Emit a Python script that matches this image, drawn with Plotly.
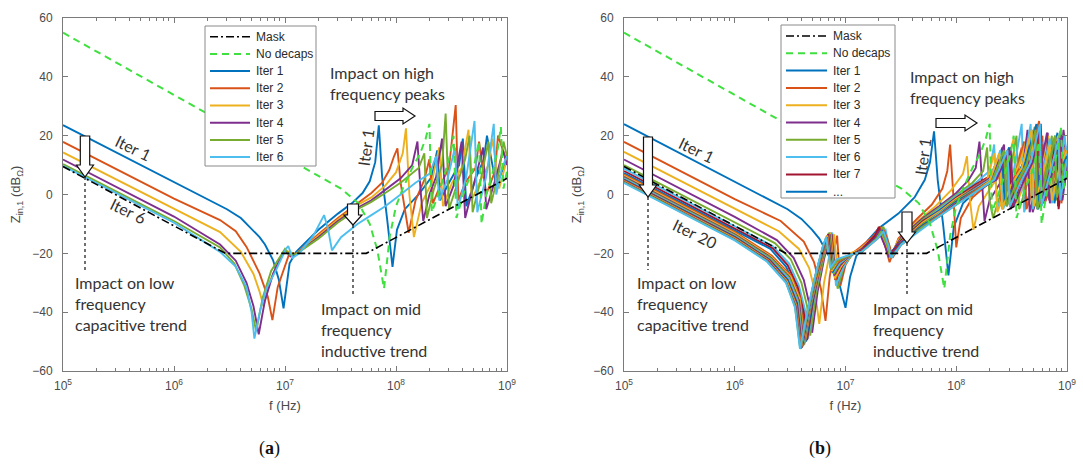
import plotly.graph_objects as go

W, H = 1083, 465

# ---------------- shared data ----------------
MASK_F = [1e5, 2.9e6, 5.4e7, 1e9]
MASK_DB = [9.5, -20, -20, 5.5]

NODECAPS_F = [1e5, 3.2e7, 4.6e7, 5.8e7, 6.8e7, 7.8e7, 8.8e7, 1.0e8, 1.15e8, 1.4e8, 1.65e8, 1.85e8, 2.0e8, 2.1e8,
              2.3e8, 2.7e8, 3.1e8, 3.3e8, 3.5e8, 4.2e8, 5.0e8, 5.6e8, 5.9e8, 6.5e8, 7.5e8, 8.3e8, 8.8e8, 9.3e8, 1e9]
NODECAPS_DB = [55, 2, -3, -10, -19, -32, -14, -4, 2, 9, 14, 19, 24, -6,
               -2, 6, 14, 20, -8, 2, 9, 18, -10, 0, 8, 16, 23, 2, 8]

X_TICKS = [1e5, 1e6, 1e7, 1e8, 1e9]
X_TICK_TEXT = ["10<sup>5</sup>", "10<sup>6</sup>", "10<sup>7</sup>", "10<sup>8</sup>", "10<sup>9</sup>"]
X_MINOR = [m * 10 ** e for e in range(5, 9) for m in range(2, 10)]
Y_TICKS = [-60, -40, -20, 0, 20, 40, 60]

# ---------------- panel (a) ----------------
A1_F = [1e5, 1e6, 3e6, 4e6, 5.1e6, 5.9e6, 6.6e6, 7.8e6, 8.8e6, 9.7e6, 1.1e7, 1.26e7, 2e7, 3e7, 4e7, 5e7, 5.8e7,
        6.5e7, 7.0e7, 7.5e7, 8.3e7, 9.3e7, 1.02e8, 1.2e8, 1.6e8, 2.1e8, 2.35e8, 2.5e8, 3.0e8, 3.7e8, 4.0e8, 4.3e8,
        5.3e8, 6.2e8, 6.6e8, 8e8, 1e9]
A1_DB = [23.6, 4.1, -5, -8, -12, -14.5, -17, -22.3, -29, -38.7, -23.4, -19.5, -12, -6.5, -3, 0.5, 4.5,
         11, 23.5, 6, -8, -24.6, -12, -5, 0, 6, 15, -2, 4, 10, 19, -4,
         6, 12, 20, 3, 12]
A2_F = [1e5, 1e6, 2.6e6, 3.6e6, 4.5e6, 5.9e6, 7e6, 7.7e6, 8.6e6, 9.9e6, 1.1e7, 1.25e7, 2e7, 3e7, 4.5e7, 6e7, 7.5e7,
        8.7e7, 9.6e7, 1.03e8, 1.1e8, 1.2e8, 1.3e8, 1.5e8, 1.8e8, 2.0e8, 2.15e8, 2.5e8, 3.0e8, 3.45e8, 3.65e8,
        4.2e8, 5.2e8, 5.6e8, 6.5e8, 7.8e8, 8.3e8, 1e9]
A2_DB = [17.9, -1.4, -8.7, -12.5, -17.8, -26.8, -34.8, -42.7, -31.4, -24.6, -19.8, -20.3, -13.5, -8, -3, 0.5, 4,
         8.3, 13, 15.7, 4, -5, -13, -2, 5, 12, -3, 3, 9, 30.4, -2,
         4, 9, 18, 0, 8, 20, 11]
A3_F = [1e5, 1e6, 2.6e6, 4e6, 5.2e6, 5.9e6, 6.4e6, 7.2e6, 8.5e6, 1.0e7, 1.1e7, 1.25e7, 2e7, 3e7, 4.5e7, 6e7, 8e7,
        1.0e8, 1.15e8, 1.23e8, 1.32e8, 1.45e8, 1.7e8, 2.1e8, 2.45e8, 2.65e8, 3.2e8, 3.9e8, 4.5e8, 4.8e8, 5.8e8,
        6.8e8, 7.4e8, 8.5e8, 1e9]
A3_DB = [14.3, -5, -12.8, -19.5, -27, -33, -38, -30, -24, -19, -19.5, -20.3, -14, -8.5, -3.5, -1, 3,
         7.5, 14, 22.5, 0, -14.5, -3, 4, 16, -4, 4, 9, 22, -2, 5,
         10, 19, 2, 12]
A4_F = [1e5, 1e6, 2.6e6, 3.6e6, 4.5e6, 5.2e6, 5.8e6, 6.6e6, 7.8e6, 9e6, 1.0e7, 1.12e7, 1.25e7, 2e7, 3e7, 4.5e7,
        6e7, 8e7, 1.1e8, 1.4e8, 1.56e8, 1.66e8, 1.76e8, 2e8, 2.3e8, 2.6e8, 2.8e8, 3.3e8, 3.9e8, 4.2e8, 5e8, 6.1e8,
        6.5e8, 8e8, 9.2e8, 1e9]
A4_DB = [11.9, -7.5, -17, -22.5, -30, -38, -47.5, -36, -27, -22, -19, -21, -20.3, -14.5, -9, -4.5,
         -2, 1.5, 5.5, 10, 18, 2, -9, 0, 6, 19, -4, 3, 18, -8, 3, 16,
         -5, 6, 15, 10]
A5_F = [1e5, 1e6, 2.6e6, 3.5e6, 4.3e6, 5e6, 5.5e6, 6.3e6, 7.5e6, 9e6, 1.0e7, 1.1e7, 1.25e7, 2e7, 3e7, 4.5e7,
        6e7, 8e7, 1.1e8, 1.6e8, 1.8e8, 1.9e8, 2.2e8, 2.6e8, 2.8e8, 3.0e8, 3.6e8, 4.2e8, 4.6e8, 4.9e8, 5.8e8, 6.8e8,
        7.2e8, 8.5e8, 9.3e8, 1e9]
A5_DB = [10.3, -9, -18, -23.5, -31, -39, -46.5, -35, -26, -21, -18.5, -20.5, -20.3, -15, -9.5, -5,
         -2.5, 0.5, 4, 9, 14, -8, 2, 10, 27.5, -5, 4, 12, 20, -6, 5, 18,
         -3, 8, 18, 13]
A6_F = [1e5, 1e6, 2.6e6, 3.6e6, 4.5e6, 5.0e6, 5.3e6, 6e6, 6.8e6, 8.3e6, 1.02e7, 1.07e7, 1.17e7, 1.35e7, 1.8e7,
        2.25e7, 2.45e7, 2.65e7, 3.2e7, 4.5e7, 6e7, 8e7, 1.1e8, 1.5e8, 2e8, 2.3e8, 2.45e8, 2.9e8, 3.4e8, 3.6e8,
        4.3e8, 5.1e8, 5.4e8, 6.5e8, 7.6e8, 8e8, 9e8, 1e9]
A6_DB = [9.7, -9.6, -19.5, -24.5, -31.5, -40, -49, -39, -32, -25.7, -18.5, -17.5, -21.5, -20, -14,
         -7, -12, -19, -14.5, -10, -7, -4, 0, 4, 7, 13, -2, 5, 16, -5,
         6, 25, -6, 6, 24, 0, 9, 13]

# ---------------- panel (b) ----------------
B1_F = [1e5, 1e6, 3e6, 4e6, 5e6, 5.8e6, 6.5e6, 7.6e6, 8.6e6, 1.0e7, 1.1e7, 1.25e7, 1.6e7, 2e7, 3e7, 4.2e7, 5.2e7,
        5.8e7, 6.3e7, 6.8e7, 7.6e7, 8.5e7, 9.5e7, 1.15e8, 1.6e8, 2.2e8, 2.6e8, 2.8e8, 3.5e8, 4.3e8, 4.8e8, 5.1e8,
        6.2e8, 7.5e8, 8.2e8, 8.7e8, 1e9]
B1_DB = [23.9, 4.5, -5, -8.3, -12, -15, -18.5, -23, -29, -38.5, -28, -21, -15.5, -11.5, -6.5, -1, 5,
         11, 21.5, 5, -10, -27.5, -11, -3, 2, 7, 16, -1, 6, 13, 22, -2,
         8, 14, 21, 2, 12]
B2_F = [1e5, 1e6, 2.6e6, 4.2e6, 5.2e6, 6e6, 6.6e6, 7.2e6, 7.9e6, 8.4e6, 9e6, 1.0e7, 1.15e7, 1.35e7, 1.8e7, 2.05e7,
        2.3e7, 2.5e7, 3e7, 4.5e7, 6e7, 7.5e7, 8.3e7, 8.8e7, 9.4e7, 1.0e8, 1.1e8, 1.4e8, 2e8, 2.4e8, 2.6e8, 3.2e8,
        3.9e8, 4.2e8, 5.2e8, 6e8, 6.3e8, 7.8e8, 9e8, 1e9]
B2_DB = [17.9, -1.6, -9, -16, -23, -32, -43, -28, -19, -14, -31, -24, -20, -18, -14, -11,
         -18, -23, -15, -8, -3.5, 2, 8, 17, 0, -18, -8, -1, 4, 12, -5, 3,
         16, -4, 6, 20, -3, 8, 17, 9]
B3_F = [1e5, 1e6, 2.5e6, 3.8e6, 4.7e6, 5.3e6, 5.8e6, 6.4e6, 7.2e6, 7.9e6, 8.6e6, 9.6e6, 1.1e7, 1.3e7, 1.8e7,
        2.1e7, 2.35e7, 2.55e7, 3e7, 4.5e7, 6.5e7, 9e7, 1.15e8, 1.25e8, 1.33e8, 1.43e8, 1.6e8, 2.1e8, 2.8e8, 3.3e8,
        3.5e8, 4.4e8, 5.5e8, 5.8e8, 7e8, 8.3e8, 8.8e8, 1e9]
B3_DB = [14.5, -5, -12.5, -18.5, -25, -33, -44, -30, -20, -13.5, -29, -24, -20, -19, -14.5,
         -12, -17, -21, -15.5, -9, -4, 1.5, 7, 13, -2, -12, -4, 3, 9, 19,
         -3, 6, 21, -1, 8, 20, 1, 10]
B4_F = [1e5, 1e6, 2.4e6, 3.4e6, 4.2e6, 4.7e6, 5.0e6, 5.6e6, 6.4e6, 7.3e6, 8e6, 8.8e6, 1.0e7, 1.15e7, 1.4e7, 1.9e7,
        2.15e7, 2.4e7, 2.6e7, 3.2e7, 5e7, 7e7, 1e8, 1.3e8, 1.5e8, 1.62e8, 1.72e8, 1.8e8, 2e8, 2.5e8, 2.9e8, 3.1e8,
        3.8e8, 4.6e8, 4.9e8, 6e8, 6.7e8, 7e8, 8.2e8, 9.4e8, 1e9]
B4_DB = [11.9, -7.6, -15.5, -21.5, -29, -37, -47, -33, -22, -13, -26, -30.5, -23, -20.5, -18.5, -13.5,
         -11.5, -16.5, -20, -14.5, -8, -4, 0.5, 5, 9, 18, 0, -9, -2, 4, 14, -5,
         5, 17, -6, 5, 21, -3, 7, 18, 11]
B5_F = [1e5, 1e6, 2.3e6, 3.2e6, 4e6, 4.5e6, 4.8e6, 5.4e6, 6.3e6, 7.2e6, 7.8e6, 8.5e6, 9.8e6, 1.15e7, 1.4e7, 1.9e7,
        2.2e7, 2.4e7, 2.6e7, 3.2e7, 5e7, 7e7, 1e8, 1.4e8, 1.75e8, 1.9e8, 2.0e8, 2.15e8, 2.5e8, 3e8, 3.5e8, 3.7e8,
        4.5e8, 5.4e8, 5.7e8, 7e8, 7.8e8, 8.1e8, 9.2e8, 1e9]
B5_DB = [10.0, -9.5, -16.5, -22, -30, -38, -48, -34, -22, -13, -24, -32, -24, -20.5, -19, -14,
         -11, -15.5, -21, -15, -8.5, -4.5, 0, 4, 8, 16, -2, -8, 0, 6, 20, -5,
         5, 15, -4, 7, 18, -2, 9, 14]
B6_F = [1e5, 1e6, 2.2e6, 3.1e6, 3.8e6, 4.3e6, 4.6e6, 5.2e6, 6e6, 7e6, 7.6e6, 8.2e6, 9.5e6, 1.12e7, 1.4e7, 1.9e7,
        2.3e7, 2.45e7, 2.65e7, 3.2e7, 5e7, 7e7, 1e8, 1.5e8, 2e8, 2.2e8, 2.35e8, 2.7e8, 3.3e8, 3.9e8, 4.1e8, 5e8,
        5.9e8, 6.2e8, 7.6e8, 8.8e8, 9.2e8, 1e9]
B6_DB = [8.8, -10.6, -17.5, -23.5, -31, -39, -49, -35, -24, -14, -13, -31, -25, -20.5, -19, -14.5,
         -12, -17, -21.5, -15.5, -9, -5, -0.5, 4, 8, 17, -5, 2, 8, 24, -6, 5,
         18, -3, 9, 22, 2, 12]
B7_F = [1e5, 1e6, 2.2e6, 3.0e6, 3.7e6, 4.2e6, 4.5e6, 5.1e6, 5.9e6, 6.9e6, 7.5e6, 8.1e6, 9.3e6, 1.1e7, 1.4e7,
        1.85e7, 2.0e7, 2.25e7, 2.5e7, 3.2e7, 5e7, 7e7, 1e8, 1.5e8, 2.3e8, 2.6e8, 2.75e8, 3.3e8, 4.3e8, 5.5e8,
        5.8e8, 7e8, 8e8, 8.4e8, 9.3e8, 1e9]
B7_DB = [8.0, -11.4, -18.3, -24, -31.5, -40, -49.5, -36, -24.5, -14.5, -13.5, -29, -24.5, -20.5, -19,
         -14, -11, -17, -20.5, -15.5, -9, -5.5, -1, 3.5, 7.5, 14, -3, 4, 10, 24,
         -4, 7, 14, -5, 8, 13]
B8_F = [1e5, 1e6, 2.1e6, 2.9e6, 3.6e6, 4.1e6, 4.4e6, 5.0e6, 5.8e6, 6.8e6, 7.4e6, 8e6, 9.2e6, 1.1e7, 1.4e7, 1.9e7,
        2.1e7, 2.3e7, 2.5e7, 3.2e7, 5e7, 7e7, 1e8, 1.5e8, 2.5e8, 3.0e8, 3.15e8, 3.7e8, 4.6e8, 5.2e8, 5.4e8, 6.6e8,
        7.4e8, 7.7e8, 9e8, 1e9]
B8_DB = [7.3, -12.1, -18.5, -24.5, -32, -40.5, -50, -36.5, -25, -15, -13.5, -28, -24, -20.5, -19.5, -14.5,
         -12.5, -16.5, -20, -16, -9.5, -5.5, -1.5, 3, 8, 16, -2, 4, 11, 23, -5, 6,
         16, -3, 10, 12]
B9_F = [1e5, 1e6, 2.15e6, 3.2e6, 3.9e6, 4.3e6, 4.9e6, 5.8e6, 6.8e6, 7.4e6, 8.1e6, 9.2e6, 1.1e7, 1.4e7, 1.9e7,
        2.1e7, 2.35e7, 2.55e7, 3.2e7, 5e7, 7e7, 1e8, 1.5e8, 2.0e8, 2.4e8, 2.55e8, 3.0e8, 3.6e8, 4.1e8, 4.3e8,
        5.3e8, 6.1e8, 6.4e8, 8e8, 9.1e8, 9.5e8, 1e9]
B9_DB = [6.8, -12.7, -20.7, -27.5, -35.2, -50.5, -37, -25.5, -15.5, -13.5, -29, -24, -20.5, -19.5, -14.5,
         -12, -17, -21.5, -16, -9.5, -6, -1.5, 3, 6, 12, -4, 3, 8, 18, -5,
         5, 17, -2, 8, 19, 3, 11]
B10_F = [1e5, 1e6, 2.1e6, 3.2e6, 3.85e6, 4.25e6, 4.85e6, 5.7e6, 6.7e6, 7.3e6, 8.0e6, 9.1e6, 1.1e7, 1.4e7, 1.95e7,
         2.15e7, 2.4e7, 2.6e7, 3.2e7, 5e7, 7e7, 1e8, 1.5e8, 1.9e8, 2.2e8, 2.35e8, 2.9e8, 3.7e8, 4.5e8, 4.8e8,
         5.6e8, 6.8e8, 7.1e8, 8.3e8, 9.6e8, 1e9]
B10_DB = [6.4, -13.1, -20.9, -28, -35.5, -51, -37.5, -26, -16, -13, -28.5, -24.5, -20.5, -19.5, -14,
          -12.5, -17.5, -21, -16, -9.5, -6, -1.5, 2.5, 5, 14, -6, 3, 10, 21, -3,
          6, 20, -1, 9, 16, 10]
B11_F = [1e5, 1e6, 2.1e6, 3.1e6, 3.8e6, 4.2e6, 4.8e6, 5.6e6, 6.6e6, 7.2e6, 7.9e6, 9.0e6, 1.1e7, 1.4e7, 1.9e7,
         2.05e7, 2.3e7, 2.5e7, 3.2e7, 5e7, 7e7, 1e8, 1.5e8, 2.1e8, 2.7e8, 2.85e8, 3.3e8, 4.0e8, 4.4e8, 4.6e8,
         5.5e8, 6.6e8, 6.9e8, 8.6e8, 9.3e8, 1e9]
B11_DB = [6.0, -13.5, -21.3, -28, -36, -51, -38, -26.5, -16.5, -13.5, -27.5, -24, -20.5, -19.5, -14.5,
          -12, -16.5, -20.5, -16, -10, -6.5, -2, 2.5, 6, 17, -4, 3, 9, 22, -6,
          5, 21, -2, 9, 22, 11]
B12_F = [1e5, 1e6, 2.1e6, 3.1e6, 3.75e6, 4.15e6, 4.75e6, 5.6e6, 6.6e6, 7.1e6, 7.8e6, 8.9e6, 1.1e7, 1.4e7, 1.95e7,
         2.2e7, 2.45e7, 2.6e7, 3.2e7, 5e7, 7e7, 1e8, 1.5e8, 2.2e8, 2.8e8, 3.0e8, 3.6e8, 4.3e8, 5.1e8, 5.3e8,
         6.3e8, 7.3e8, 7.6e8, 8.8e8, 1e9]
B12_DB = [5.7, -13.8, -21.6, -28.3, -36.3, -51.5, -38.5, -26.5, -16, -13, -27, -23.5, -20.5, -19.5, -14.5,
          -12.5, -17, -21, -16.5, -10, -6.5, -2, 2, 6, 13, -3, 4, 10, 23, -4,
          6, 20, 0, 9, 14]
B13_F = [1e5, 1e6, 2.05e6, 3.05e6, 3.7e6, 4.1e6, 4.7e6, 5.5e6, 6.5e6, 7.0e6, 7.7e6, 8.8e6, 1.1e7, 1.4e7, 1.9e7,
         2.1e7, 2.35e7, 2.55e7, 3.2e7, 5e7, 7e7, 1e8, 1.5e8, 2e8, 2.5e8, 2.65e8, 3.2e8, 4.0e8, 4.7e8, 4.9e8,
         5.9e8, 7e8, 7.3e8, 8.6e8, 9.5e8, 1e9]
B13_DB = [5.4, -14.1, -21.8, -28.5, -36.5, -51.5, -39, -27, -16.5, -13.5, -26.5, -23.5, -20.5, -19.5, -15,
          -12.5, -17.5, -21.5, -16.5, -10.5, -6.5, -2.5, 2, 5, 15, -5, 3, 9, 24, -5,
          6, 19, -3, 8, 20, 12]
B14_F = [1e5, 1e6, 2.05e6, 3.0e6, 3.65e6, 4.05e6, 4.65e6, 5.5e6, 6.5e6, 7.0e6, 7.6e6, 8.7e6, 1.1e7, 1.4e7, 1.85e7,
         2.0e7, 2.25e7, 2.45e7, 3.2e7, 5e7, 7e7, 1e8, 1.5e8, 2.3e8, 3.0e8, 3.2e8, 3.8e8, 4.6e8, 5.6e8, 5.9e8,
         6.9e8, 8.0e8, 8.3e8, 9.3e8, 1e9]
B14_DB = [5.1, -14.4, -22.1, -29, -37, -52, -39, -27, -16.5, -13.5, -26, -23, -20.5, -19.5, -14.5,
          -12, -16.5, -20.5, -16.5, -10.5, -7, -2.5, 1.5, 6, 14, -4, 4, 10, 23, -3,
          6, 18, -4, 9, 12]
B15_F = [1e5, 1e6, 2.0e6, 3.0e6, 3.6e6, 4.0e6, 4.6e6, 5.4e6, 6.4e6, 6.9e6, 7.6e6, 8.6e6, 1.1e7, 1.4e7, 1.9e7,
         2.15e7, 2.4e7, 2.6e7, 3.2e7, 5e7, 7e7, 1e8, 1.5e8, 2.1e8, 2.6e8, 2.75e8, 3.4e8, 4.2e8, 5.3e8, 5.5e8,
         6.6e8, 7.8e8, 8.1e8, 9.2e8, 1e9]
B15_DB = [4.9, -14.6, -22, -29.2, -37, -52, -39.5, -27.5, -17, -14, -26.5, -23, -20.5, -19.5, -14.5,
          -12.5, -17, -21, -16.5, -10.5, -7, -2.5, 1.5, 5, 13, -3, 4, 11, 24, -5,
          7, 20, -1, 10, 13]
B16_F = [1e5, 1e6, 2.0e6, 2.95e6, 3.6e6, 3.98e6, 4.55e6, 5.4e6, 6.4e6, 6.9e6, 7.5e6, 8.6e6, 1.1e7, 1.4e7, 1.95e7,
         2.25e7, 2.5e7, 2.65e7, 3.2e7, 5e7, 7e7, 1e8, 1.5e8, 2.2e8, 2.9e8, 3.05e8, 3.7e8, 4.6e8, 5.6e8, 5.8e8,
         7e8, 8.6e8, 8.9e8, 1e9]
B16_DB = [4.7, -14.8, -22.2, -29.4, -37.5, -52, -40, -27.5, -17, -14, -26, -23, -20.5, -19.5, -15,
          -12.5, -17.5, -21.5, -17, -11, -7, -3, 1.5, 5.5, 15, -4, 4, 10, 25, -4,
          7, 19, -3, 11]
B17_F = [1e5, 1e6, 2.0e6, 2.95e6, 3.55e6, 3.95e6, 4.55e6, 5.35e6, 6.3e6, 6.8e6, 7.5e6, 8.5e6, 1.1e7, 1.4e7, 1.9e7,
         2.05e7, 2.3e7, 2.5e7, 3.2e7, 5e7, 7e7, 1e8, 1.5e8, 2.0e8, 2.45e8, 2.6e8, 3.1e8, 3.9e8, 4.8e8, 5.0e8,
         6.0e8, 7.0e8, 7.3e8, 8.5e8, 1e9]
B17_DB = [4.5, -15, -22.4, -29.5, -37.5, -52.5, -40, -28, -17.5, -14, -26, -22.5, -20.5, -19.5, -15,
          -12.5, -17, -21, -17, -11, -7.5, -3, 1, 4.5, 14, -5, 3, 9, 22, -4,
          6, 17, -2, 9, 15]
B18_F = [1e5, 1e6, 2.0e6, 2.9e6, 3.55e6, 3.92e6, 4.5e6, 5.3e6, 6.3e6, 6.8e6, 7.4e6, 8.4e6, 1.1e7, 1.4e7, 1.85e7,
         2.0e7, 2.25e7, 2.45e7, 3.2e7, 5e7, 7e7, 1e8, 1.5e8, 2.3e8, 3.1e8, 3.3e8, 4.0e8, 4.9e8, 5.8e8, 6.1e8,
         7.3e8, 8.8e8, 9.1e8, 1e9]
B18_DB = [4.3, -15.2, -22.6, -29.6, -38, -52.5, -40.5, -28, -17.5, -14.5, -25.5, -22.5, -20.5, -19.5, -15,
          -12.5, -17, -21, -17, -11, -7.5, -3, 1, 5, 16, -4, 4, 11, 24, -3,
          7, 21, -2, 10]
B19_F = [1e5, 1e6, 1.95e6, 2.9e6, 3.5e6, 3.9e6, 4.5e6, 5.3e6, 6.2e6, 6.7e6, 7.4e6, 8.4e6, 1.1e7, 1.4e7, 1.9e7,
         2.1e7, 2.4e7, 2.55e7, 3.2e7, 5e7, 7e7, 1e8, 1.5e8, 2.1e8, 2.7e8, 2.85e8, 3.5e8, 4.3e8, 5.2e8, 5.4e8,
         6.5e8, 7.8e8, 8.1e8, 9.4e8, 1e9]
B19_DB = [4.1, -15.4, -22.6, -29.8, -38, -52.5, -41, -28.5, -18, -14.5, -25.5, -22.5, -20.5, -19.5, -15,
          -12.5, -17.5, -21.5, -17, -11, -7.5, -3.5, 1, 4.5, 15, -4, 4, 10, 22, -5,
          6, 20, -1, 9, 12]
B20_F = [1e5, 1e6, 1.95e6, 2.9e6, 3.5e6, 3.88e6, 4.45e6, 5.25e6, 6.2e6, 6.7e6, 7.3e6, 8.3e6, 1.1e7, 1.4e7, 1.95e7,
         2.2e7, 2.45e7, 2.6e7, 3.2e7, 5e7, 7e7, 1e8, 1.5e8, 2.2e8, 2.9e8, 3.05e8, 3.8e8, 4.7e8, 5.7e8, 5.9e8,
         7e8, 8.4e8, 8.7e8, 1e9]
B20_DB = [3.9, -15.6, -22.8, -30, -38.5, -52.5, -41, -28.5, -18, -14.5, -25, -22, -20.5, -19.5, -15,
          -12.5, -17.5, -21.5, -17, -11.5, -7.5, -3.5, 1, 5, 15, -4, 4, 11, 24, -4,
          7, 19, -2, 12]

A_SERIES = [(A1_F, A1_DB), (A2_F, A2_DB), (A3_F, A3_DB), (A4_F, A4_DB), (A5_F, A5_DB), (A6_F, A6_DB)]
B_SERIES = [(B1_F, B1_DB), (B2_F, B2_DB), (B3_F, B3_DB), (B4_F, B4_DB), (B5_F, B5_DB), (B6_F, B6_DB),
            (B7_F, B7_DB), (B8_F, B8_DB), (B9_F, B9_DB), (B10_F, B10_DB), (B11_F, B11_DB), (B12_F, B12_DB),
            (B13_F, B13_DB), (B14_F, B14_DB), (B15_F, B15_DB), (B16_F, B16_DB), (B17_F, B17_DB),
            (B18_F, B18_DB), (B19_F, B19_DB), (B20_F, B20_DB)]
A_NAMES = ["Iter 1", "Iter 2", "Iter 3", "Iter 4", "Iter 5", "Iter 6"]
B_NAMES = ["Iter 1", "Iter 2", "Iter 3", "Iter 4", "Iter 5", "Iter 6", "Iter 7", "..."]

# ---------------- styling ----------------
COLORS = ['#0072BD', '#D95319', '#EDB120', '#7E2F8E', '#77AC30', '#4DBEEE', '#A2142F']
GREEN = '#3fe03f'
MASK_DASH = '8px,3px,2px,3px'
GREEN_DASH = '7px,5px'
AX = '#7a7a7a'
TICKFONT = dict(family='Liberation Sans', size=12, color='#4a4a4a')
TITLEFONT = dict(family='Liberation Sans', size=13, color='#4a4a4a')
NOTEFONT = dict(family='Lato', size=16, color='#333333')
LEGFONT = dict(family='Liberation Sans', size=12, color='#2a2a2a')


def X(p):
    return p / W


def Y(p):
    return 1 - p / H


fig = go.Figure()


def add_panel(xa, ya, series, names):
    for i, (f, db) in enumerate(series):
        fig.add_trace(go.Scatter(
            x=f, y=db, mode='lines', name=names[i] if i < len(names) else 'Iter %d' % (i + 1),
            line=dict(color=COLORS[i % 7], width=1.9), xaxis=xa, yaxis=ya, hoverinfo='skip'))
    fig.add_trace(go.Scatter(
        x=NODECAPS_F, y=NODECAPS_DB, mode='lines', name='No decaps',
        line=dict(color=GREEN, width=2, dash=GREEN_DASH), xaxis=xa, yaxis=ya, hoverinfo='skip'))
    fig.add_trace(go.Scatter(
        x=MASK_F, y=MASK_DB, mode='lines', name='Mask',
        line=dict(color='black', width=1.6, dash=MASK_DASH), xaxis=xa, yaxis=ya, hoverinfo='skip'))


add_panel('x', 'y', A_SERIES, A_NAMES)
add_panel('x2', 'y2', B_SERIES, B_NAMES)

YD = [Y(371), Y(18)]


def xaxis(dom, anchor):
    return dict(domain=dom, anchor=anchor, type='log', range=[5, 9],
                tickmode='array', tickvals=X_TICKS, ticktext=X_TICK_TEXT, ticks='inside', ticklen=5,
                tickwidth=1, tickcolor=AX, showline=True, linecolor=AX, linewidth=1, mirror='ticks',
                showgrid=False, zeroline=False, tickfont=TICKFONT, ticklabelstandoff=4,
                minor=dict(tickvals=X_MINOR, ticks='inside', ticklen=3, tickcolor=AX, showgrid=False),
                title=dict(text='f (Hz)', font=TITLEFONT, standoff=8))


def yaxis(anchor):
    return dict(domain=YD, anchor=anchor, range=[-60, 60], tickmode='array', tickvals=Y_TICKS,
                ticks='inside', ticklen=5, tickwidth=1, tickcolor=AX, showline=True, linecolor=AX,
                linewidth=1, mirror='ticks', showgrid=False, zeroline=False, tickfont=TICKFONT,
                ticklabelstandoff=7,
                title=dict(text='Z<sub>in,1</sub> (dB<sub>Ω</sub>)', font=TITLEFONT, standoff=8))


shapes = []
ann = []


def legend_box(x0, y0, x1, y1, lx0, lx1, tx, first, step, names):
    shapes.append(dict(type='rect', xref='paper', yref='paper', x0=X(x0), x1=X(x1), y0=Y(y1), y1=Y(y0),
                       line=dict(color='#8a8a8a', width=1), fillcolor='white', layer='above'))
    entries = [('Mask', 'black', MASK_DASH, 1.6), ('No decaps', GREEN, GREEN_DASH, 2)]
    for i, nm in enumerate(names):
        entries.append((nm, COLORS[i % 7], 'solid', 2))
    for k, (nm, col, dash, wd) in enumerate(entries):
        yy = first + step * k
        shapes.append(dict(type='line', xref='paper', yref='paper', x0=X(lx0), x1=X(lx1), y0=Y(yy), y1=Y(yy),
                           line=dict(color=col, width=wd, dash=dash), layer='above'))
        ann.append(dict(text=nm, x=X(tx), y=Y(yy), xref='paper', yref='paper', xanchor='left',
                        yanchor='middle', showarrow=False, font=LEGFONT))


def down_arrow(cx, top, base, tip, sw, hw):
    pts = [(cx - sw, top), (cx + sw, top), (cx + sw, base), (cx + hw, base), (cx, tip),
           (cx - hw, base), (cx - sw, base)]
    path = 'M ' + ' L '.join('%.5f,%.5f' % (X(a), Y(b)) for a, b in pts) + ' Z'
    shapes.append(dict(type='path', path=path, xref='paper', yref='paper',
                       line=dict(color='#111111', width=1.2), fillcolor='white', layer='above'))


def right_arrow(left, base, tip, cy, sh, hh):
    pts = [(left, cy - sh), (base, cy - sh), (base, cy - hh), (tip, cy), (base, cy + hh),
           (base, cy + sh), (left, cy + sh)]
    path = 'M ' + ' L '.join('%.5f,%.5f' % (X(a), Y(b)) for a, b in pts) + ' Z'
    shapes.append(dict(type='path', path=path, xref='paper', yref='paper',
                       line=dict(color='#111111', width=1.2), fillcolor='white', layer='above'))


def dotted(x, y0, y1):
    shapes.append(dict(type='line', xref='paper', yref='paper', x0=X(x), x1=X(x), y0=Y(y0), y1=Y(y1),
                       line=dict(color='#111111', width=1.2, dash='dot'), layer='above'))


def note(text, x, y, xanchor='left', yanchor='top', angle=0):
    ann.append(dict(text=text, x=X(x), y=Y(y), xref='paper', yref='paper', xanchor=xanchor, yanchor=yanchor,
                    showarrow=False, textangle=angle, font=NOTEFONT, align='left'))


# legends
legend_box(205, 26, 316, 166, 210, 250, 254, 36.7, 17.2, A_NAMES)
legend_box(781, 25, 895, 198, 786, 827, 831, 36, 17.3, B_NAMES)

# panel (a) marks
dotted(85, 177, 270)
down_arrow(85, 136, 165, 177, 4.7, 8.5)
dotted(353, 225, 295)
down_arrow(353, 204, 215, 225, 5.5, 9)
right_arrow(375, 403, 415, 116, 4.5, 8)
# panel (b) marks
dotted(648, 197, 270)
down_arrow(648, 137, 185, 197, 4.5, 8.7)
dotted(907, 243, 296)
down_arrow(907, 212, 232, 243, 5, 8.5)
right_arrow(936, 965, 977, 123, 4.5, 8)

note('Impact on low<br>frequency<br>capacitive trend', 73, 271)
note('Impact on mid<br>frequency<br>inductive trend', 319, 297)
note('Impact on high<br>frequency peaks', 328, 61)
note('Iter 1', 133, 147, 'center', 'middle', 26)
note('Iter 6', 128, 210, 'center', 'middle', 26)
note('Iter 1', 365, 148, 'center', 'middle', -82)

note('Impact on low<br>frequency<br>capacitive trend', 635, 271)
note('Impact on mid<br>frequency<br>inductive trend', 871, 297)
note('Impact on high<br>frequency peaks', 908, 65)
note('Iter 1', 696, 150, 'center', 'middle', 26)
note('Iter 20', 695, 233, 'center', 'middle', 26)
note('Iter 1', 922, 157, 'center', 'middle', -82)

for lbl, cx in (('a', 269), ('b', 820)):
    ann.append(dict(text='(<b>%s</b>)' % lbl, x=X(cx), y=Y(448), xref='paper', yref='paper',
                    xanchor='center', yanchor='middle', showarrow=False,
                    font=dict(family='Liberation Serif', size=18, color='#111111')))

fig.update_layout(
    template='none', width=W, height=H, margin=dict(l=0, r=0, t=0, b=0),
    font=dict(family='Liberation Sans', size=12, color='#4a4a4a'),
    paper_bgcolor='white', plot_bgcolor='white',
    xaxis=xaxis([X(63), X(507)], 'y'), yaxis=yaxis('x'),
    xaxis2=xaxis([X(624), X(1067)], 'y2'), yaxis2=yaxis('x2'),
    shapes=shapes, annotations=ann, showlegend=False, hovermode=False,
)

fig.write_html("out.html", config={"displayModeBar": False},
               post_script="document.body.style.margin='0';")
